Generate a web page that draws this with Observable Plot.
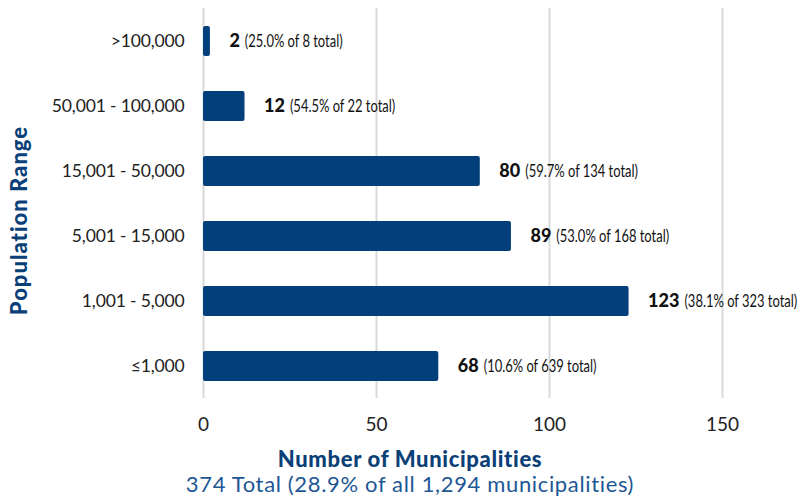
<!DOCTYPE html>
<html>
<head>
<meta charset="utf-8">
<script src="https://cdn.jsdelivr.net/npm/d3@7"></script>
<script src="https://cdn.jsdelivr.net/npm/@observablehq/plot@0.6"></script>
<style>
  body { margin: 0; background: #fff; }
  #wrap { position: relative; width: 801px; height: 502px; font-family: Lato, "Open Sans", sans-serif; }
  #chart svg { overflow: visible; }
  #xtitle { position: absolute; left: 0; width: 820px; top: 448px; line-height: 22px; text-align: center; font-size: 22px; font-weight: 900; letter-spacing: 0.65px; color: #0b3f78; }
  #caption { position: absolute; left: 0; width: 820px; top: 473px; line-height: 22px; text-align: center; font-size: 22px; letter-spacing: 0.65px; color: #1d5795; }
</style>
</head>
<body>
<div id="wrap">
  <div id="chart"></div>
  <div id="xtitle">Number of Municipalities</div>
  <div id="caption">374 Total (28.9% of all 1,294 municipalities)</div>
</div>
<script>
const ranges = [">100,000", "50,001 - 100,000", "15,001 - 50,000", "5,001 - 15,000", "1,001 - 5,000", "≤1,000"];
const counts = [2, 12, 80, 89, 123, 68];
const shares = ["25.0%", "54.5%", "59.7%", "53.0%", "38.1%", "10.6%"];
const totals = [8, 22, 134, 168, 323, 639];
const xTicks = [0, 50, 100, 150];

const data = ranges.map((r, i) => ({range: r, count: counts[i], share: shares[i], total: totals[i]}));

const plot = Plot.plot({
  width: 801,
  height: 440,
  marginTop: 8,
  marginBottom: 42,
  marginLeft: 203,
  marginRight: 79,
  style: {fontFamily: "Lato, 'Open Sans', sans-serif", color: "#222", background: "transparent"},
  x: {domain: [0, 150], ticks: xTicks, tickSize: 0, tickPadding: 19, label: null},
  y: {domain: ranges, tickSize: 0, tickPadding: 19, label: null, paddingInner: 0.54, paddingOuter: 0.27},
  marks: [
    Plot.ruleX(xTicks, {stroke: "#d9d9d9", strokeWidth: 2}),
    Plot.barX(data, {x: "count", y: "range", fill: "#033f7b", rx: 2}),
    Plot.text(data, {x: "count", y: "range", text: d => String(d.count), dx: 19, textAnchor: "start", fontWeight: 900, fontSize: 18, fill: "#111"}),
    Plot.text(["Population Range"], {frameAnchor: "left", textAnchor: "middle", rotate: -90, dx: -184, dy: 17, fontSize: 22, fontWeight: 900, fill: "#0b3f78"})
  ]
});
document.getElementById("chart").appendChild(plot);

const svg = d3.select(plot);
svg.selectAll('[aria-label^="y-axis"] text').style("font-size", "17.5px").style("letter-spacing", "-0.15px");
svg.selectAll('[aria-label^="x-axis"] text').style("font-size", "19px");
svg.selectAll('g[aria-label="text"] text').filter(function() { return this.textContent === "Population Range"; })
  .style("letter-spacing", "1px");

const byCount = new Map(data.map(d => [String(d.count), d]));
svg.selectAll('g[aria-label="text"] text').each(function() {
  const d = byCount.get(this.textContent);
  if (!d) return;
  const w = this.getComputedTextLength();
  const t = this.getAttribute("transform") || "";
  d3.select(this.parentNode).append("text")
    .attr("transform", `${t} translate(${w + 5},0) scale(0.72,1)`)
    .attr("dy", "0.32em")
    .attr("text-anchor", "start")
    .style("font-weight", "normal")
    .style("font-size", "18px")
    .style("fill", "#111")
    .text(`(${d.share} of ${d.total} total)`);
});
</script>
</body>
</html>
